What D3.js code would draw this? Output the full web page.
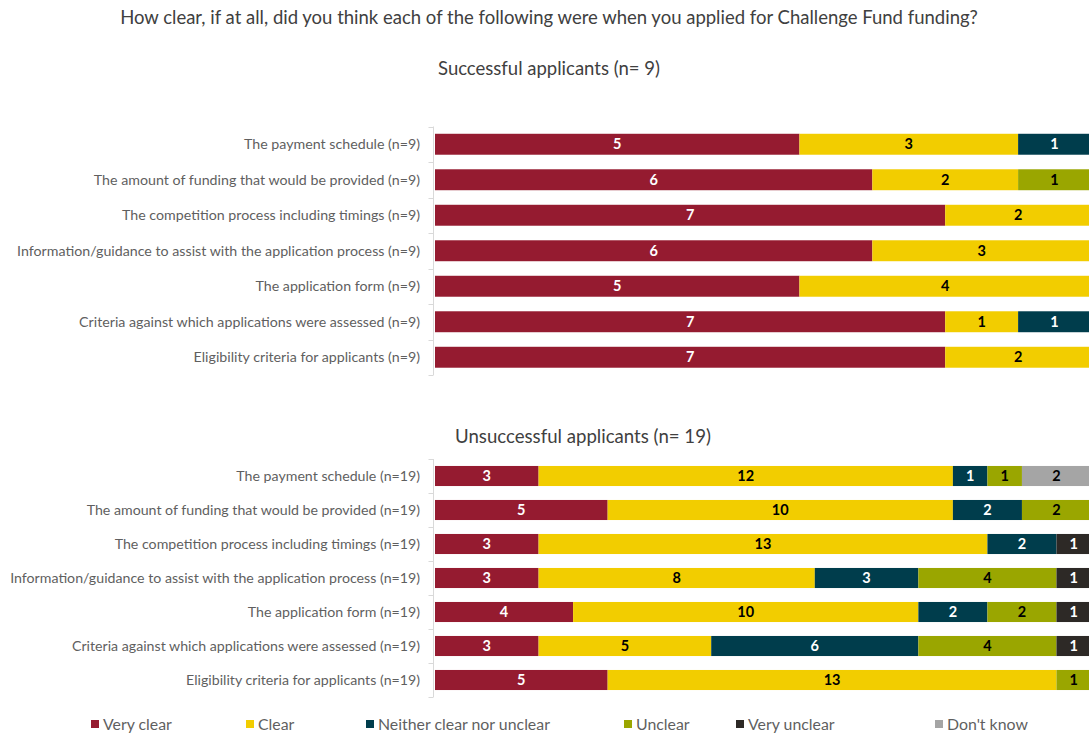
<!DOCTYPE html>
<html>
<head>
<meta charset="utf-8">
<script src="https://cdn.jsdelivr.net/npm/d3@7"></script>
<style>
  html, body { margin: 0; padding: 0; background: #ffffff; overflow: hidden; }
  svg { display: block; font-family: "Lato", "Noto Sans", "DejaVu Sans", sans-serif; }
</style>
</head>
<body>
<svg id="chart" width="1089" height="735"></svg>
<script>
// Survey items, top to bottom
const items = [
  "The payment schedule",
  "The amount of funding that would be provided",
  "The competition process including timings",
  "Information/guidance to assist with the application process",
  "The application form",
  "Criteria against which applications were assessed",
  "Eligibility criteria for applicants"
];

const ratings = ["Very clear", "Clear", "Neither clear nor unclear", "Unclear", "Very unclear", "Don't know"];
const ratingColors = ["#951b30", "#f2cd00", "#003d4c", "#9aa600", "#2d2926", "#a5a5a5"];
const ratingTextColors = ["#ffffff", "#000000", "#ffffff", "#000000", "#ffffff", "#000000"];

// Successful applicants (n = 9)
const successfulN = 9;
const succVeryClear   = [5, 6, 7, 6, 5, 7, 7];
const succClear       = [3, 2, 2, 3, 4, 1, 2];
const succNeither     = [1, 0, 0, 0, 0, 1, 0];
const succUnclear     = [0, 1, 0, 0, 0, 0, 0];
const succVeryUnclear = [0, 0, 0, 0, 0, 0, 0];
const succDontKnow    = [0, 0, 0, 0, 0, 0, 0];

// Unsuccessful applicants (n = 19)
const unsuccessfulN = 19;
const unsVeryClear   = [3, 5, 3, 3, 4, 3, 5];
const unsClear       = [12, 10, 13, 8, 10, 5, 13];
const unsNeither     = [1, 2, 2, 3, 2, 6, 0];
const unsUnclear     = [1, 2, 0, 4, 2, 4, 1];
const unsVeryUnclear = [0, 0, 1, 1, 1, 1, 0];
const unsDontKnow    = [2, 0, 0, 0, 0, 0, 0];

const svg = d3.select("#chart");

// Scale a text selection's font size so that its widest member spans `width` px
function fitWidth(sel, width) {
  let widest = 0;
  sel.each(function () { widest = Math.max(widest, this.getComputedTextLength()); });
  const base = parseFloat(sel.attr("font-size"));
  sel.attr("font-size", (base * width / widest).toFixed(2));
}

// Main title
svg.append("text")
  .attr("x", 549).attr("y", 24)
  .attr("text-anchor", "middle")
  .attr("font-size", 16)
  .attr("fill", "#404040")
  .text("How clear, if at all, did you think each of the following were when you applied for Challenge Fund funding?")
  .call(fitWidth, 858);

function drawPanel(opts) {
  const { title, titleX, titleY, titleWidth, n, series, top, bottom, labelWidth } = opts;
  const rows = items.map((name, i) => {
    const r = { label: `${name} (n=${n})` };
    ratings.forEach((k, j) => { r[k] = series[j][i]; });
    return r;
  });

  const y = d3.scaleBand()
    .domain(rows.map(d => d.label))
    .range([top, bottom])
    .paddingInner(0.41)
    .paddingOuter(0.205);

  const x = d3.scaleLinear().domain([0, n]).range([435, 1091]);

  const g = svg.append("g");

  // Panel subtitle
  g.append("text")
    .attr("x", titleX).attr("y", titleY)
    .attr("text-anchor", "middle")
    .attr("font-size", 16)
    .attr("fill", "#404040")
    .text(title)
    .call(fitWidth, titleWidth);

  // Category axis with boundary ticks
  const axisX = 433.5;
  g.append("line")
    .attr("x1", axisX).attr("x2", axisX)
    .attr("y1", top).attr("y2", bottom)
    .attr("stroke", "#d9d9d9").attr("stroke-width", 1);
  const step = y.step();
  d3.range(rows.length + 1).forEach(i => {
    const ty = Math.round(top + i * step) + 0.5;
    g.append("line")
      .attr("x1", axisX - 5).attr("x2", axisX)
      .attr("y1", ty).attr("y2", ty)
      .attr("stroke", "#d9d9d9").attr("stroke-width", 1);
  });

  g.selectAll("text.cat")
    .data(rows)
    .join("text")
    .attr("class", "cat")
    .attr("x", 420)
    .attr("y", d => y(d.label) + y.bandwidth() / 2)
    .attr("dy", "0.35em")
    .attr("text-anchor", "end")
    .attr("font-size", 13)
    .attr("fill", "#5f5f5f")
    .text(d => d.label)
    .call(fitWidth, labelWidth);

  const stacked = d3.stack().keys(ratings)(rows);

  const layers = g.selectAll("g.layer")
    .data(stacked)
    .join("g")
    .attr("class", "layer");

  layers.selectAll("rect")
    .data((s, si) => s.map(p => ({ p, si })))
    .join("rect")
    .attr("x", d => x(d.p[0]))
    .attr("y", d => y(d.p.data.label))
    .attr("width", d => x(d.p[1]) - x(d.p[0]))
    .attr("height", y.bandwidth())
    .attr("fill", d => ratingColors[d.si]);

  layers.selectAll("text")
    .data((s, si) => s.map(p => ({ p, si })).filter(d => d.p[1] - d.p[0] > 0))
    .join("text")
    .attr("x", d => (x(d.p[0]) + x(d.p[1])) / 2)
    .attr("y", d => y(d.p.data.label) + y.bandwidth() / 2)
    .attr("dy", "0.36em")
    .attr("text-anchor", "middle")
    .attr("font-size", 14.5)
    .attr("font-weight", "bold")
    .attr("fill", d => ratingTextColors[d.si])
    .text(d => d.p[1] - d.p[0]);
}

drawPanel({
  title: "Successful applicants (n= 9)",
  titleX: 549,
  titleY: 75,
  titleWidth: 222,
  n: successfulN,
  series: [succVeryClear, succClear, succNeither, succUnclear, succVeryUnclear, succDontKnow],
  top: 126.5,
  bottom: 375,
  labelWidth: 403
});

drawPanel({
  title: "Unsuccessful applicants (n= 19)",
  titleX: 583,
  titleY: 443,
  titleWidth: 256,
  n: unsuccessfulN,
  series: [unsVeryClear, unsClear, unsNeither, unsUnclear, unsVeryUnclear, unsDontKnow],
  top: 459,
  bottom: 697,
  labelWidth: 410
});

// Legend
const legendX = [91, 246, 366, 624, 736, 935];
const legend = svg.append("g");
ratings.forEach((r, i) => {
  legend.append("rect")
    .attr("x", legendX[i]).attr("y", 720)
    .attr("width", 8).attr("height", 8)
    .attr("fill", ratingColors[i]);
});
legend.selectAll("text")
  .data(ratings)
  .join("text")
  .attr("x", (d, i) => legendX[i] + 12)
  .attr("y", 724)
  .attr("dy", "0.35em")
  .attr("font-size", 14)
  .attr("fill", "#5f5f5f")
  .text(d => d)
  .call(fitWidth, 172);
</script>
</body>
</html>
